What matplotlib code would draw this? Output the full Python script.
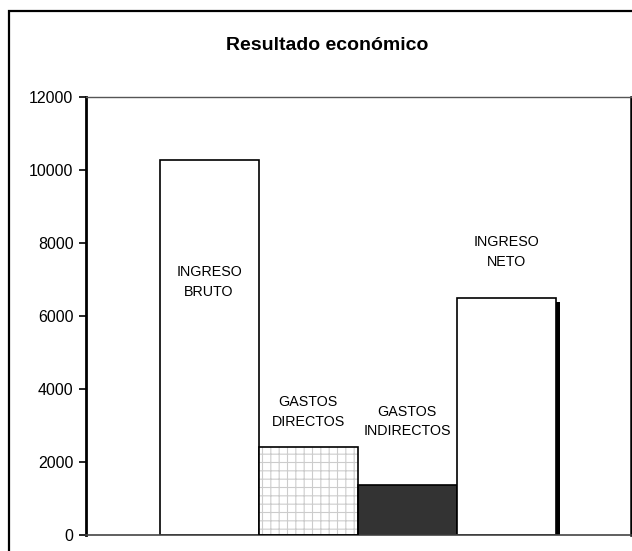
import matplotlib
matplotlib.use("Agg")
import matplotlib.pyplot as plt
from matplotlib.patches import Rectangle

plt.rcParams["font.family"] = ["Liberation Sans", "DejaVu Sans"]
plt.rcParams["hatch.linewidth"] = 0.8

# Resultado económico
conceptos = ["INGRESO\nBRUTO", "GASTOS\nDIRECTOS", "GASTOS\nINDIRECTOS", "INGRESO\nNETO"]
valores = [10270, 2410, 1370, 6490]
# altura de cada etiqueta dentro del gráfico
y_etiquetas = [6930, 3370, 3110, 7750]
y_ticks = [0, 2000, 4000, 6000, 8000, 10000, 12000]

fig = plt.figure(figsize=(6.32, 5.51), dpi=100)
ax = fig.add_axes([86 / 632, 16 / 551, 545 / 632, 438 / 551])

x = list(range(len(valores)))

# sombra del ingreso neto
ax.bar(x[3] + 0.04, valores[3] - 110, width=1, color="black", zorder=1)

ax.bar(x[0], valores[0], width=1, color="white", edgecolor="black", linewidth=1.2, zorder=2)
# cuadrícula de gastos directos
ax.bar(x[1], valores[1], width=1, color="white", edgecolor="#cccccc", hatch="++",
       linewidth=0, zorder=2)
ax.bar(x[1], valores[1], width=1, fill=False, edgecolor="black", linewidth=1.2, zorder=3)
ax.bar(x[2], valores[2], width=1, color="#333333", edgecolor="black", linewidth=1.2, zorder=2)
ax.bar(x[3], valores[3], width=1, color="white", edgecolor="black", linewidth=1.2, zorder=2)

for xi, texto, yi in zip(x, conceptos, y_etiquetas):
    ax.text(xi, yi, texto, ha="center", va="center", fontsize=10.3, linespacing=1.5, zorder=4)

ax.set_xlim(-1.242, 4.258)
ax.set_ylim(0, 12000)
ax.set_yticks(y_ticks)
ax.set_yticklabels([str(v) for v in y_ticks], fontsize=11.5)
ax.set_xticks([])
ax.tick_params(axis="y", length=5, width=1.2, pad=4)

ax.spines["left"].set_linewidth(2)
ax.spines["right"].set_linewidth(1.8)
ax.spines["top"].set_color("#555555")
ax.spines["top"].set_linewidth(1)
ax.spines["bottom"].set_color("#444444")
ax.spines["bottom"].set_linewidth(1.2)

fig.text(327 / 632, 1 - 45 / 551, "Resultado económico", ha="center", va="center",
         fontsize=14, fontweight="bold")

# marco exterior
fig.patches.append(Rectangle((9 / 632, -0.1), 1.2, 1 - 11 / 551 + 0.1,
                             transform=fig.transFigure, fill=False,
                             edgecolor="black", linewidth=1.6))

fig.savefig("out.png", dpi=100)
